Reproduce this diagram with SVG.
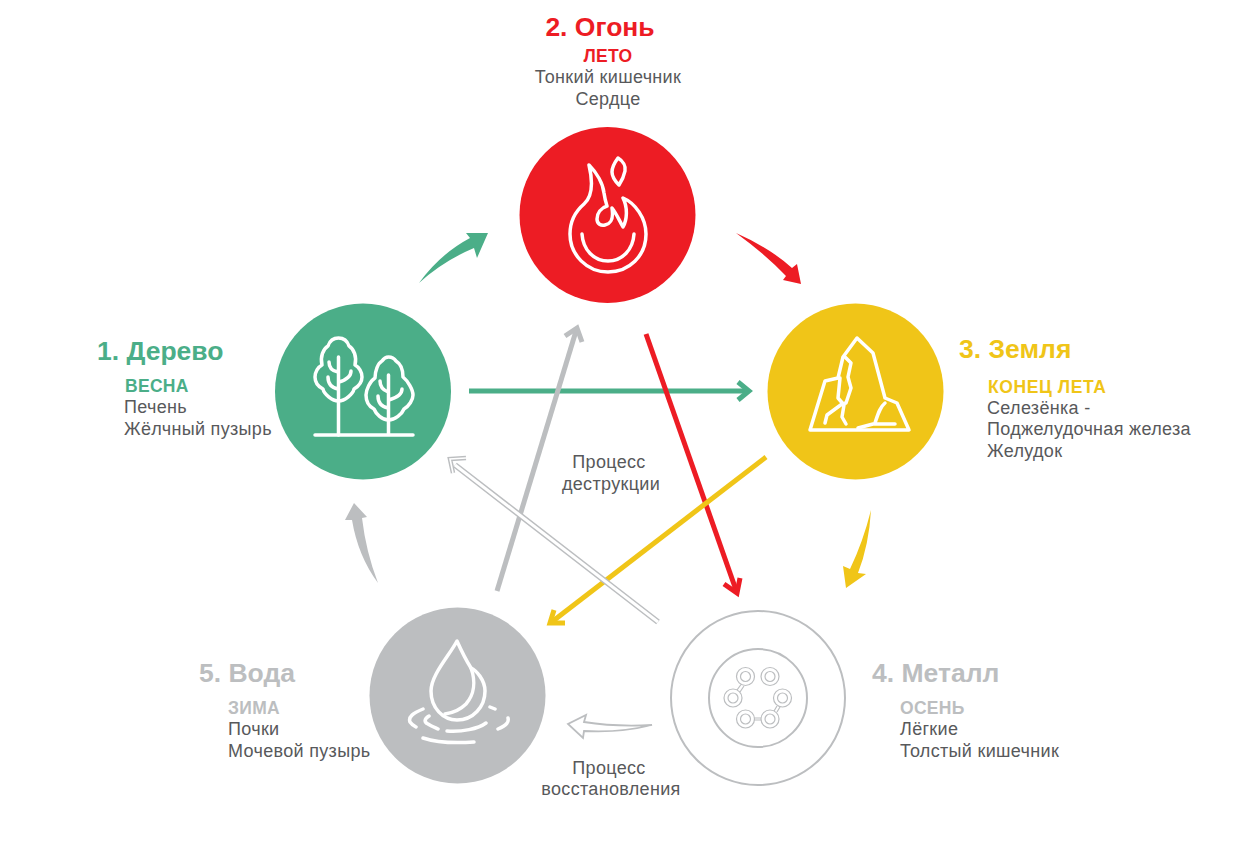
<svg xmlns="http://www.w3.org/2000/svg" width="1241" height="866" viewBox="0 0 1241 866">
<style>
text{font-family:"Liberation Sans",Arial,sans-serif;font-size:18px;letter-spacing:.32px;fill:#58595b}
.h{font-size:26.500px;font-weight:700;letter-spacing:0}
.s{font-size:17.500px;font-weight:700;letter-spacing:.3px}
.g{fill:#4bae88}.r{fill:#ed1c24}.y{fill:#f0c518}.m{fill:#bcbec0}
.i{fill:none;stroke:#fff;stroke-width:3.500;stroke-linecap:round;stroke-linejoin:round}
.t{fill:none;stroke-width:1.200;stroke:#bcbec0}
</style>
<rect width="1241" height="866" fill="#fff"/>
<g id="connectors">
<path d="M419 283Q440 254 470 238L466 233L488 233L477 258L474 248Q443 261 419 283Z" fill="#4bae88"/>
<path d="M736 233Q770 248 792 268L797 264L801 284L783 280L786 276Q765 254 736 233Z" fill="#ed1c24"/>
<path d="M871 510Q869 545 858 573L866 574L846 588L843 566L850 569Q863 542 871 510Z" fill="#f0c518"/>
<path d="M378 583Q358 556 352 520L345 520L354 503L367 517L362 518Q366 552 378 583Z" fill="#bcbec0"/>
<path d="M652 725Q615 727 584 722L586 715L568 724L583 738L584 731Q620 733 652 725Z" fill="#fff" stroke="#bcbec0" stroke-width="1.800"/>
<g fill="none" stroke-width="5">
<path d="M469 391H748" stroke="#4bae88"/><path d="M738 382L749 391L738 400" stroke="#4bae88"/>
<path d="M497 591L576 331" stroke="#bcbec0"/><path d="M565 336L577 328L582 342" stroke="#bcbec0"/>
<path d="M646 334L736 590" stroke="#ed1c24"/><path d="M724 584L737 593L740 578" stroke="#ed1c24"/>
<path d="M766 457L553 621" stroke="#f0c518"/><path d="M554 610L550 623L565 623" stroke="#f0c518"/>
</g>
<path d="M658 622L455 465" fill="none" stroke="#bcbec0" stroke-width="6"/>
<path d="M658 622L455 465" fill="none" stroke="#fff" stroke-width="3"/>
<path d="M466 458L450 459L453 473" fill="none" stroke="#bcbec0" stroke-width="4.500"/>
<path d="M466 458L450 459L453 473" fill="none" stroke="#fff" stroke-width="1.600"/>
</g>
<g id="node-fire">
<circle cx="607.500" cy="215" r="88" fill="#ed1c24"/>
<path class="i" d="M589 165C597 173 603 184 604 193C605 200 606 203 607 206C601 208 597 213 597 219C597 224 601 226 605 225C610 224 614 221 612 208C616 213 618 218 623 227C627 220 628 208 623 198C635 203 646 218 646 234C646 256 629 272 608 272C587 272 570 255 570 234C570 220 577 210 584 204C592 197 593 182 589 165Z"/>
<path class="i" d="M582 234C583 250 594 261 608 261C622 261 633 250 634 234"/>
<path class="i" d="M618 158C623 161 626 166 625 171C624 176 621 182 619 185C615 181 612 176 612 172C612 167 615 162 618 158Z"/>
<text class="h r" x="600" y="36" text-anchor="middle">2. Огонь</text>
<text class="s r" x="608" y="62" text-anchor="middle">ЛЕТО</text>
<text x="608" y="83" text-anchor="middle">Тонкий кишечник</text>
<text x="608" y="105" text-anchor="middle">Сердце</text>
</g>
<g id="node-wood">
<circle cx="363" cy="391.500" r="88" fill="#4bae88"/>
<path class="i" d="M338.500 401C332 401 324 394 323 389C317 386 315 381 315 377C315 372 318 367 322 365C320 357 323 349 328 346C330 340 334 338 338.500 338C343 338 347 340 349 346C354 349 357 357 355 365C359 367 362 372 362 377C362 381 359 386 354 389C353 394 345 401 338.500 401Z"/>
<path class="i" d="M338.500 357V435M329 362C329 368 332 371 338 372M328 377C328 385 333 388 338 389M351 371C351 377 346 380 339 382"/>
<path class="i" d="M388.500 420C382 420 376 414 374 409C368 406 366 400 366 395C366 390 370 381 375 378C375 371 378 363 382 361C384 358 386 357 388.500 357C392 357 394 358 396 361C401 364 403 371 403 377C408 381 413 390 413 395C413 400 409 406 404 409C402 414 395 420 388.500 420Z"/>
<path class="i" d="M388.500 375V435M380 381C380 387 383 390 388 392M378 396C378 404 383 407 388 408M402 389C402 395 396 398 389 400M315 435H413"/>
<text class="h g" x="97" y="360">1. Дерево</text>
<text class="s g" x="125" y="392">ВЕСНА</text>
<text x="124" y="413">Печень</text>
<text x="124" y="435">Жёлчный пузырь</text>
</g>
<g id="node-earth">
<circle cx="855.500" cy="391.500" r="88" fill="#f0c518"/>
<path class="i" d="M810 430L825 381L838 378L843 357L857 338L873 353L885 398L897 403L909 430Z"/>
<path class="i" d="M845 357L851 363L848 377L851 388L846 403L842 404L827 415L825 423M840 378L838 398L844 405L842 417L846 424M875 423C878 414 880 407 885 403M858 428L873 424H895"/>
<text class="h y" x="959" y="358">3. Земля</text>
<text class="s y" x="988" y="393" style="letter-spacing:.6px">КОНЕЦ ЛЕТА</text>
<text x="987" y="414">Селезёнка -</text>
<text x="987" y="435">Поджелудочная железа</text>
<text x="987" y="457">Желудок</text>
</g>
<g id="node-metal">
<circle cx="758" cy="698" r="87" fill="#fff" stroke="#bcbec0" stroke-width="2"/>
<circle cx="758" cy="698" r="49" fill="none" stroke="#bcbec0" stroke-width="2"/>
<g class="t">
<circle cx="745.500" cy="676.500" r="9"/><circle cx="745.500" cy="676.500" r="5"/>
<circle cx="770" cy="676.500" r="9"/><circle cx="770" cy="676.500" r="5"/>
<circle cx="733" cy="698" r="9"/><circle cx="733" cy="698" r="5"/>
<circle cx="782.500" cy="698" r="9"/><circle cx="782.500" cy="698" r="5"/>
<circle cx="745.500" cy="719" r="9"/><circle cx="745.500" cy="719" r="5"/>
<circle cx="770" cy="719" r="9"/><circle cx="770" cy="719" r="5"/>
<path d="M741 684.500L737 690M744 686L740 692M754 718H761M754 720H761M777 706L774 711M780 707L777 712"/>
</g>
<text class="h m" x="872" y="682">4. Металл</text>
<text class="s m" x="900" y="714">ОСЕНЬ</text>
<text x="900" y="735">Лёгкие</text>
<text x="900" y="757">Толстый кишечник</text>
</g>
<g id="node-water">
<circle cx="457.500" cy="695.500" r="88" fill="#bcbec0"/>
<path class="i" d="M457 641C449 656 431 675 431 691C431 708 443 720 457 720C473 720 485 707 485 691C485 680 476 670 471 668C466 660 461 650 457 641Z"/>
<path class="i" d="M471 668C476 682 474 695 466 704C460 710 452 713 445 714"/>
<path class="i" d="M423 709C413 713 408 717 410 722C412 725 414 726 416 727M429 716C424 719 424 722 428 724C431 726 436 728 438 729M447 731C462 732 478 729 486 723M490 707L495 709M508 718C509 722 507 725 498 729M423 738C438 743 460 743 474 742"/>
<text class="h m" x="199" y="682">5. Вода</text>
<text class="s m" x="228" y="714">ЗИМА</text>
<text x="228" y="735">Почки</text>
<text x="228" y="757">Мочевой пузырь</text>
</g>
<g id="captions">
<text x="609" y="468" text-anchor="middle">Процесс</text>
<text x="611" y="490" text-anchor="middle">деструкции</text>
<text x="609" y="774" text-anchor="middle">Процесс</text>
<text x="611" y="795" text-anchor="middle">восстановления</text>
</g>
</svg>
